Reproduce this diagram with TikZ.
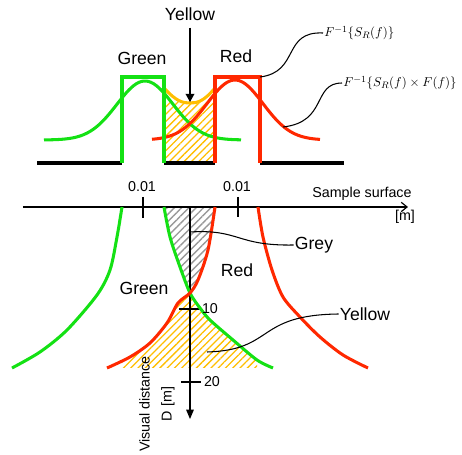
\documentclass[tikz,border=0pt]{standalone}
\usepackage{fontspec}
\setmainfont{Liberation Sans}
\usetikzlibrary{arrows.meta,patterns.meta}
\definecolor{lgreen}{RGB}{20,225,20}
\definecolor{lred}{RGB}{255,40,0}
\definecolor{lyellow}{RGB}{255,190,0}

\begin{document}
\begin{tikzpicture}[x=0.03cm, y=-0.03cm,
  big/.style={font=\fontsize{15}{18}\selectfont, inner sep=1pt},
  small/.style={font=\fontsize{12.2}{15}\selectfont, inner sep=1pt},
  formula/.style={font=\fontsize{11.3}{14}\selectfont, inner sep=1pt, anchor=west},
  curve/.style={line width=2.6pt, line join=round},
  base/.style={line width=2.6pt},
  leader/.style={line width=0.9pt},
  axis/.style={line width=1pt},
  hatchy/.style={pattern={Lines[angle=45,distance=4.4pt,line width=1.1pt]}, pattern color=lyellow},
  hatchg/.style={pattern={Lines[angle=45,distance=4.4pt,line width=1.2pt]}, pattern color=gray!80},
]
\useasboundingbox (0,0) rectangle (462,455);

% spectra above the surface
\fill[hatchy] (164,102) rectangle (215,163);
\draw[base] (37,163) -- (122,163) (164,163) -- (215,163) (260,163) -- (344,163);
\draw[curve, lgreen] plot[domain=44:241, samples=80] (\x, {140-59*exp(-((\x-145)^2)/1568)});
\draw[curve, lred] plot[domain=152:320, samples=80] (\x, {140-60*exp(-((\x-235)^2)/1568)});
\draw[curve, lyellow] (164,88) .. controls (176,101) and (182,103) .. (190,103) .. controls (198,103) and (204,101) .. (215,88);
\draw[curve, lgreen, line join=miter] (122,163) -- (122,77) -- (164,77) -- (164,163);
\draw[curve, lred, line join=miter] (215,163) -- (215,77) -- (260,77) -- (260,163);

\node[big] (yellowtop) at (190,14) {Yellow};
\coordinate (yellowtip) at (190,102);
\draw[axis, shorten <=5pt, -{Triangle[length=7pt,width=7.5pt]}] (yellowtop.south) -- (yellowtip);
\node[big] (greentop) at (142,58) {Green};
\node[big] (redtop) at (236,56) {Red};
\node[formula] (fsr) at (323,33) {$F^{-1}\{S_R(f)\}$};
\node[formula] (fsrf) at (342,83) {$F^{-1}\{S_R(f)\times F(f)\}$};
\coordinate (redcorner) at (260,77);
\coordinate (redtail) at (283,127);
\draw[leader] (redcorner) .. controls (300,72) and (282,31) .. (fsr.west);
\draw[leader] (redtail) .. controls (328,122) and (312,83) .. (fsrf.west);

% depth view below the surface
\coordinate (sx0) at (23,207);
\coordinate (sx1) at (408,207);
\coordinate (dy0) at (190,207);
\coordinate (dy1) at (190,419);

\fill[hatchg] plot[smooth] coordinates {(164,207) (170,237) (180,267) (190,293)}
  -- plot[smooth] coordinates {(190,293) (198,280) (208,250) (215,207)} -- cycle;
\begin{scope}
  \clip (122,290) rectangle (257,368);
  \fill[hatchy] plot[smooth] coordinates {(190,293) (178,303) (167,323) (150,343) (130,357) (107,368)}
    -- (273,368) -- plot[smooth] coordinates {(273,368) (257,360) (233,340) (210,320) (200,308) (190,293)} -- cycle;
\end{scope}

\draw[axis, -{Straight Barb[length=5pt,width=8pt]}] (sx0) -- (sx1);
\draw[axis, -{Triangle[length=8pt,width=6.5pt]}] (dy0) -- (dy1);
\draw[axis] (143,197) -- (143,218) (238,197) -- (238,217) (179,309) -- (202,309) (181,382) -- (201,382);

\draw[curve, lgreen] plot[smooth] coordinates {(122,207) (117,237) (110,270) (97,295) (67,330) (40,352) (12,368)};
\draw[curve, lgreen] plot[smooth] coordinates {(164,207) (170,237) (180,267) (190,293) (200,308) (210,320) (233,340) (257,360) (273,368)};
\draw[curve, lred] plot[smooth] coordinates {(215,207) (208,250) (198,280) (190,293) (178,303) (167,323) (150,343) (130,357) (107,368)};
\draw[curve, lred] plot[smooth] coordinates {(258,207) (263,237) (272,270) (283,297) (300,317) (320,337) (343,355) (368,368)};

\node[small] (tickxa) at (142,187) {0.01};
\node[small] (tickxb) at (237,187) {0.01};
\node[small, anchor=base east] (surface) at (413,198) {Sample surface};
\node[small] (munit) at (405,217) {[m]};
\node[small] (tenlbl) at (210,309) {10};
\node[small] (twentylbl) at (212,382) {20};
\node[small, font=\fontsize{12.2}{18.8}\selectfont, rotate=90, align=center] (dlbl) at (157,404) {Visual distance\\D [m]};

\node[big] (greenlow) at (144,288) {Green};
\node[big] (redlow) at (237,270) {Red};
\node[big] (greylbl) at (314,245) {Grey};
\node[big] (yellowlow) at (365,314) {Yellow};
\coordinate (greyend) at (190,232);
\coordinate (yellowend) at (207,352);
\draw[leader] (greyend) .. controls (240,229) and (236,246) .. (greylbl.west);
\draw[leader] (yellowend) .. controls (275,350) and (255,315) .. (yellowlow.west);
\end{tikzpicture}
\end{document}
